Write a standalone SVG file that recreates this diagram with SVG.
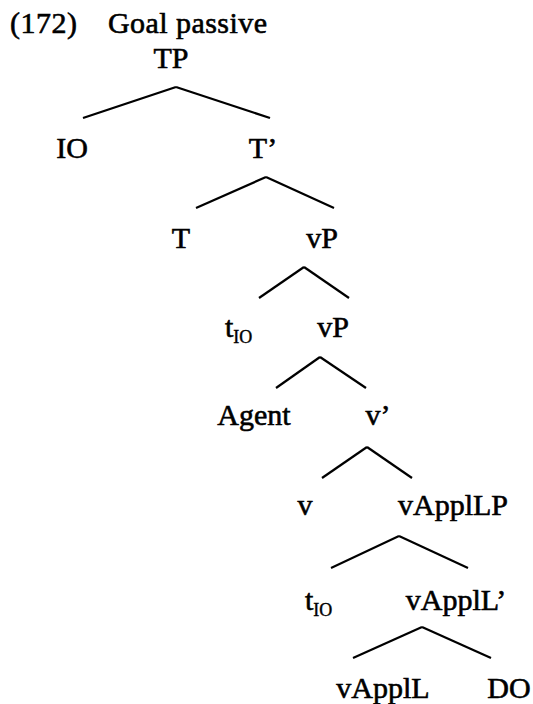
<svg xmlns="http://www.w3.org/2000/svg" width="533" height="704" viewBox="0 0 533 704">
<style>
text{font-family:"Liberation Serif","Times New Roman",serif;font-size:30px;fill:#000;stroke:#000;stroke-width:0.6;text-anchor:middle}
.h{text-anchor:start}
.sub{font-size:18px;stroke-width:0.4}
#edges line{stroke:#000;stroke-width:2.2;stroke-linecap:butt}
</style>
<rect width="533" height="704" fill="#fff"/>
<g id="title"><text class="h" x="10" y="33" textLength="67">(172)</text><text class="h" x="108" y="33" textLength="159">Goal passive</text></g>
<g id="edges">
<line x1="176" y1="87" x2="83" y2="118"/><line x1="176" y1="87" x2="270" y2="118"/>
<line x1="266" y1="177" x2="196" y2="208"/><line x1="266" y1="177" x2="334" y2="208"/>
<line x1="304" y1="267" x2="259" y2="298"/><line x1="304" y1="267" x2="349" y2="298"/>
<line x1="320" y1="357" x2="276" y2="388"/><line x1="320" y1="357" x2="366" y2="388"/>
<line x1="367" y1="447" x2="322" y2="478"/><line x1="367" y1="447" x2="412" y2="478"/>
<line x1="399" y1="536" x2="331" y2="568"/><line x1="399" y1="536" x2="468" y2="568"/>
<line x1="422" y1="627" x2="353" y2="658"/><line x1="422" y1="627" x2="491" y2="658"/>
</g>
<g id="TP"><text x="171" y="68">TP</text></g>
<g id="IO"><text x="72" y="158">IO</text></g>
<g id="Tbar"><text x="263" y="158">T’</text></g>
<g id="T"><text x="181" y="248">T</text></g>
<g id="vP1"><text x="322" y="248">vP</text></g>
<g id="tIO1"><text class="h" x="225" y="337">t<tspan class="sub" dy="6">IO</tspan></text></g>
<g id="vP2"><text x="333" y="337">vP</text></g>
<g id="Agent"><text x="254" y="425">Agent</text></g>
<g id="vbar"><text x="378" y="425">v’</text></g>
<g id="v"><text x="305" y="515">v</text></g>
<g id="vApplLP"><text x="453" y="515">vApplLP</text></g>
<g id="tIO2"><text class="h" x="305" y="610">t<tspan class="sub" dy="6">IO</tspan></text></g>
<g id="vApplLbar"><text x="456" y="610">vApplL’</text></g>
<g id="vApplL"><text x="383" y="698">vApplL</text></g>
<g id="DO"><text x="509" y="698">DO</text></g>
</svg>
